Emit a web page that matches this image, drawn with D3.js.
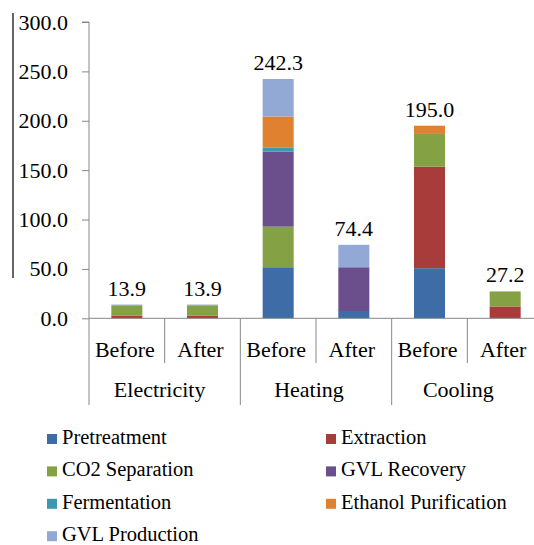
<!DOCTYPE html>
<html><head><meta charset="utf-8">
<script src="https://cdn.jsdelivr.net/npm/d3@7"></script>
<style>body{margin:0;background:#fff}svg{display:block}</style>
</head><body><svg id="c" width="534" height="545"></svg>
<script>
const groups = ["Electricity", "Heating", "Cooling"];
const conditions = ["Before", "After"];
const seriesNames = ["Pretreatment", "Extraction", "CO2 Separation", "GVL Recovery", "Fermentation", "Ethanol Purification", "GVL Production"];
const seriesColors = ["#3D6CA7", "#A83C3A", "#84A244", "#6A4F8C", "#3B98B0", "#E0812F", "#92A9D5"];
const pretreatment   = [0, 0, 51.7, 7.4, 50.7, 0];
const extraction     = [2.6, 2.6, 0, 0, 102.9, 12.0];
const co2Separation  = [10.6, 10.6, 41.1, 0, 33.9, 15.2];
const gvlRecovery    = [0, 0, 76.1, 44.3, 0, 0];
const fermentation   = [0, 0, 3.7, 0, 0, 0];
const ethanolPurif   = [0, 0, 31.7, 0, 7.5, 0];
const gvlProduction  = [0.7, 0.7, 38.0, 22.7, 0, 0];
const yTicks = [0, 50, 100, 150, 200, 250, 300];

const FONT = "'Liberation Serif', 'Times New Roman', 'DejaVu Serif', serif";
const seriesValues = [pretreatment, extraction, co2Separation, gvlRecovery, fermentation, ethanolPurif, gvlProduction];
const bars = [];
groups.forEach(g => conditions.forEach(c => bars.push({g, c, id: g + "|" + c})));
const rows = bars.map((b, i) => {
  const r = {id: b.id};
  seriesNames.forEach((s, k) => r[s] = seriesValues[k][i]);
  return r;
});
const stacked = d3.stack().keys(seriesNames)(rows);

const svg = d3.select("#c");
const x0 = 89, x1 = 543, yTop = 22, yBot = 318.3;
const x = d3.scaleBand().domain(bars.map(b => b.id)).range([x0, x1]).paddingInner(0.59).paddingOuter(0.295);
const y = d3.scaleLinear().domain([0, 300]).range([yBot, yTop]);
const step = x.step();

// stray left border line
svg.append("line").attr("x1", 13).attr("x2", 13).attr("y1", 13).attr("y2", 278).attr("stroke", "#666").attr("stroke-width", 2);

// y axis
const yAxis = d3.axisLeft(y).tickValues(yTicks).tickFormat(d3.format(".1f")).tickSize(7).tickPadding(14);
const ya = svg.append("g").attr("transform", `translate(${x0},0)`).call(yAxis);
ya.attr("font-family", null).attr("font-size", null);
ya.select(".domain").attr("stroke", "#888").attr("d", `M-7,${yTop}H0V${yBot}`);
ya.selectAll(".tick line").attr("stroke", "#888");
ya.selectAll(".tick text").style("font-size", "22px").style("font-family", FONT).attr("fill", "#000");

// bars
svg.append("g").selectAll("g").data(stacked).join("g")
  .attr("fill", (d, i) => seriesColors[i])
  .selectAll("rect").data(d => d.map((v, i) => ({v, id: bars[i].id}))).join("rect")
  .attr("x", d => x(d.id)).attr("width", x.bandwidth())
  .attr("y", d => y(d.v[1])).attr("height", d => y(d.v[0]) - y(d.v[1]));

// totals
svg.append("g").selectAll("text").data(rows).join("text")
  .attr("x", d => x(d.id) + x.bandwidth() / 2)
  .attr("y", d => y(d3.sum(seriesNames, s => d[s])) - 9)
  .attr("text-anchor", "middle").style("font-size", "22px").style("font-family", FONT)
  .text(d => d3.format(".1f")(d3.sum(seriesNames, s => d[s])));

// x axis
const xa = svg.append("g").attr("stroke", "#888");
xa.append("line").attr("x1", x0).attr("x2", x1).attr("y1", yBot).attr("y2", yBot);
bars.forEach((b, i) => {
  const left = x(b.id) - (step - x.bandwidth()) / 2;
  const long = i % conditions.length === 0;
  xa.append("line").attr("x1", left).attr("x2", left).attr("y1", yBot).attr("y2", long ? 405 : 363);
});
xa.append("line").attr("x1", x1).attr("x2", x1).attr("y1", yBot).attr("y2", 405);

svg.append("g").selectAll("text").data(bars).join("text")
  .attr("x", d => x(d.id) + x.bandwidth() / 2 - 2).attr("y", 357)
  .attr("text-anchor", "middle").style("font-size", "22px").style("font-family", FONT).text(d => d.c);
svg.append("g").selectAll("text").data(groups).join("text")
  .attr("x", (g, i) => x0 + step * conditions.length * (i + 0.5) - 5 - 2 * i).attr("y", 397)
  .attr("text-anchor", "middle").style("font-size", "22px").style("font-family", FONT).text(d => d);

// legend
const lg = svg.append("g").selectAll("g").data(seriesNames).join("g")
  .attr("transform", (d, i) => `translate(${i % 2 ? 326 : 47},${444 + Math.floor(i / 2) * 32.4})`);
lg.append("rect").attr("x", 0).attr("y", -10).attr("width", 10).attr("height", 10).attr("fill", (d, i) => seriesColors[i]);
lg.append("text").attr("x", 15).attr("y", 0).style("font-size", "20.5px").style("font-family", FONT).text(d => d);
</script></body></html>
